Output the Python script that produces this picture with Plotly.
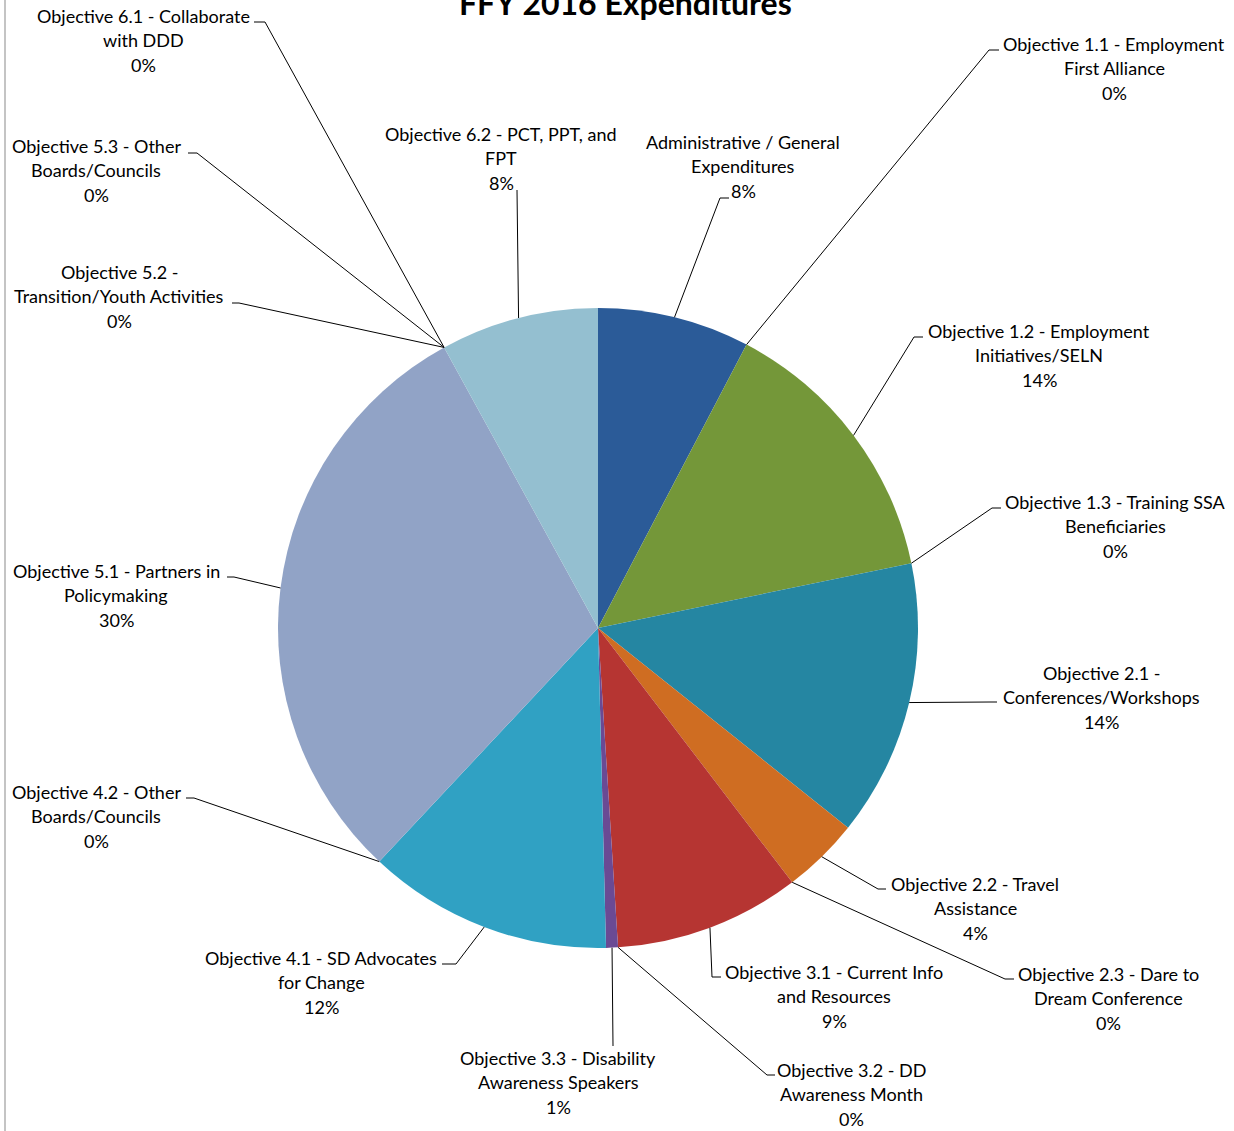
import math
import plotly.graph_objects as go

# ---------------- data ----------------
categories = [
    "Administrative / General Expenditures",
    "Objective 1.1 - Employment First Alliance",
    "Objective 1.2 - Employment Initiatives/SELN",
    "Objective 1.3 - Training SSA Beneficiaries",
    "Objective 2.1 - Conferences/Workshops",
    "Objective 2.2 - Travel Assistance",
    "Objective 2.3 - Dare to Dream Conference",
    "Objective 3.1 - Current Info and Resources",
    "Objective 3.2 - DD Awareness Month",
    "Objective 3.3 - Disability Awareness Speakers",
    "Objective 4.1 - SD Advocates for Change",
    "Objective 4.2 - Other Boards/Councils",
    "Objective 5.1 - Partners in Policymaking",
    "Objective 5.2 - Transition/Youth Activities",
    "Objective 5.3 - Other Boards/Councils",
    "Objective 6.1 - Collaborate with DDD",
    "Objective 6.2 - PCT, PPT, and FPT",
]
values = [7.7, 0, 14.1, 0, 14.0, 3.9, 0, 9.4, 0, 0.6, 12.4, 0, 30.1, 0, 0, 0, 8.0]

# wrapped label text (as in the chart)
label_lines = [
    ["Administrative / General", "Expenditures"],
    ["Objective 1.1 - Employment", "First Alliance"],
    ["Objective 1.2 - Employment", "Initiatives/SELN"],
    ["Objective 1.3 - Training SSA", "Beneficiaries"],
    ["Objective 2.1 -", "Conferences/Workshops"],
    ["Objective 2.2 - Travel", "Assistance"],
    ["Objective 2.3 - Dare to", "Dream Conference"],
    ["Objective 3.1 - Current Info", "and Resources"],
    ["Objective 3.2 - DD", "Awareness Month"],
    ["Objective 3.3 - Disability", "Awareness Speakers"],
    ["Objective 4.1 - SD Advocates", "for Change"],
    ["Objective 4.2 - Other", "Boards/Councils"],
    ["Objective 5.1 - Partners in", "Policymaking"],
    ["Objective 5.2 -", "Transition/Youth Activities"],
    ["Objective 5.3 - Other", "Boards/Councils"],
    ["Objective 6.1 - Collaborate", "with DDD"],
    ["Objective 6.2 - PCT, PPT, and", "FPT"],
]

# ---------------- styles / layout ----------------
colors = [
    "#2b5b98", "#2b5b98", "#749739", "#749739", "#2586a2", "#cf6d22",
    "#cf6d22", "#b63532", "#6a4a94", "#6a4a94", "#30a1c3", "#30a1c3",
    "#91a3c6", "#91a3c6", "#91a3c6", "#91a3c6", "#94bfd0",
]

W, H = 1234, 1131
CX, CY, R = 598, 628, 320

# label placement in pixels: text centre x, first line centre y, elbow x, elbow y, end x
label_pos = [
    (743, 142, 720, 198, 729),
    (1114, 44, 989, 50, 999),
    (1039, 331, 914, 337, 923),
    (1115, 502, 992, 508, 1001),
    (1101, 673, 990, 702, 997),
    (975, 884, 878, 889, 886),
    (1108, 974, 1005, 979, 1014),
    (834, 972, 712, 977, 721),
    (851, 1070, 767, 1075, 775),
    (558, 1058, 613, 1046, 613),
    (321, 958, 456, 964, 442),
    (96, 792, 194, 798, 186),
    (116, 571, 234, 577, 227),
    (119, 272, 239, 303, 232),
    (96, 146, 197, 153, 188),
    (143, 16, 265, 22, 254),
    (501, 134, 517, 190, 517),
]
LINE_GAP = 24.3
FONT = "Lato"
FONT_SIZE = 18


def px(x):
    return x / W


def py(y):
    return 1 - y / H


fig = go.Figure(
    go.Pie(
        labels=categories,
        values=values,
        sort=False,
        direction="clockwise",
        rotation=0,
        marker=dict(colors=colors, line=dict(width=0)),
        textinfo="none",
        hoverinfo="label+percent",
        showlegend=False,
        domain=dict(x=[px(CX - R), px(CX + R)], y=[py(CY + R), py(CY - R)]),
    )
)

total = sum(values)
annotations = []
shapes = []
cum = 0.0
for i, v in enumerate(values):
    mid = (cum + v / 2) / total * 2 * math.pi
    cum += v
    sx = CX + R * math.sin(mid)
    sy = CY - R * math.cos(mid)
    cx, y0, ex, ey, hx = label_pos[i]
    shapes.append(dict(type="line", xref="paper", yref="paper",
                       x0=px(sx), y0=py(sy), x1=px(ex), y1=py(ey),
                       line=dict(color="#000000", width=1)))
    if hx != ex:
        shapes.append(dict(type="line", xref="paper", yref="paper",
                           x0=px(ex), y0=py(ey), x1=px(hx), y1=py(ey),
                           line=dict(color="#000000", width=1)))
    lines = label_lines[i] + [f"{round(v / total * 100)}%"]
    for k, t in enumerate(lines):
        annotations.append(dict(
            text=t, xref="paper", yref="paper",
            x=px(cx), y=py(y0 + k * LINE_GAP),
            xanchor="center", yanchor="middle", showarrow=False,
            font=dict(family=FONT, size=FONT_SIZE, color="#000000"),
        ))

annotations.append(dict(
    text="<b>FFY 2016 Expenditures</b>", xref="paper", yref="paper",
    x=px(625), y=py(2.5), xanchor="center", yanchor="middle", showarrow=False,
    font=dict(family=FONT, size=32, color="#000000"),
))

shapes.append(dict(type="line", xref="paper", yref="paper",
                   x0=px(5), y0=0, x1=px(5), y1=1,
                   line=dict(color="#b0b0b0", width=1.5)))

fig.update_layout(
    width=W, height=H,
    margin=dict(l=0, r=0, t=0, b=0),
    paper_bgcolor="#ffffff",
    plot_bgcolor="#ffffff",
    annotations=annotations,
    shapes=shapes,
)

fig.write_html(
    "out.html",
    config={"displayModeBar": False},
    post_script="document.body.style.margin='0';document.body.style.overflow='hidden';",
)
